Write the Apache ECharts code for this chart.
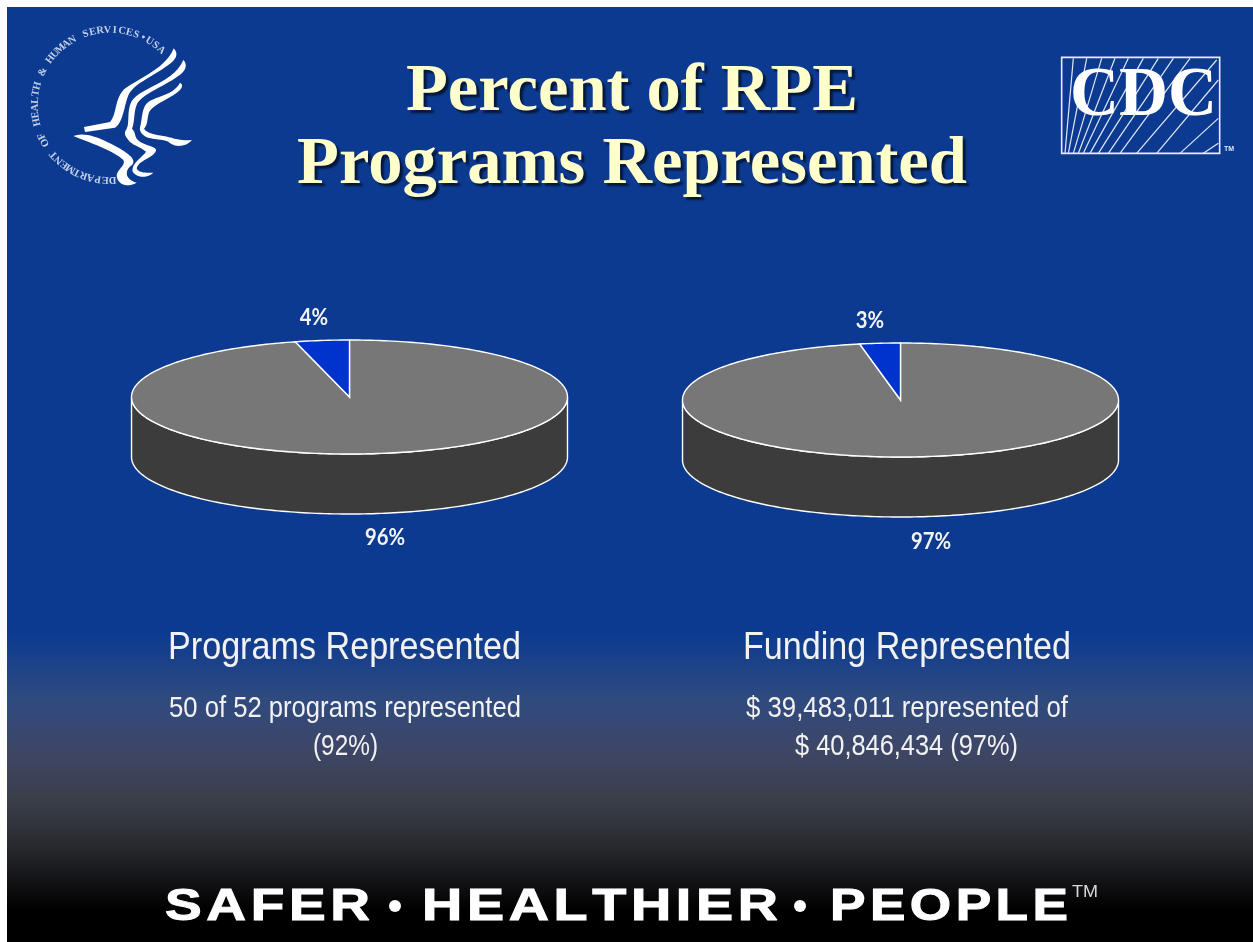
<!DOCTYPE html>
<html><head><meta charset="utf-8">
<style>html,body{margin:0;padding:0;background:#fff}#c{width:1253px;height:942px}</style>
<script src="https://cdn.jsdelivr.net/npm/echarts@6/dist/echarts.min.js"></script></head>
<body><div id="c"></div>
<script>
var sliceNames = ['Represented', 'Not represented'];
var programValues = [96, 4];
var fundingValues = [97, 3];
var sliceColors = ['#777777', '#0033cc'];
var sideColor = '#3c3c3c';
var titleLines = ['Percent of RPE', 'Programs Represented'];

var RX = 218, RY = 57, DEPTH = 60;
var pies = [
  {values: programValues, cx: 349.5, cy: 397, labels: [[385, 538], [314, 318]]},
  {values: fundingValues, cx: 900.5, cy: 400, labels: [[931, 542], [870, 321]]}
];

var measureCtx = document.createElement('canvas').getContext('2d');
function fitted(s, font, left, width, y, fill, z, heavy) {
  measureCtx.font = font;
  var w = measureCtx.measureText(s).width;
  var style = {text: s, font: font, fill: fill, textAlign: 'left', textVerticalAlign: 'middle'};
  if (heavy) { style.stroke = fill; style.lineWidth = heavy; }
  return {type: 'text', x: left, y: y, z: z || 10, scaleX: width / w, style: style};
}

function makeRender(values) {
  var total = values.reduce(function (a, b) { return a + b; }, 0);
  var drop = DEPTH / RY;
  return function (params, api) {
    var i = params.dataIndex, v = api.value(1), before = 0;
    for (var k = 0; k < i; k++) before += values[k];
    var a0 = before / total * 2 * Math.PI, a1 = (before + v) / total * 2 * Math.PI;
    var n = Math.max(8, Math.ceil((a1 - a0) / 0.02));
    var top = [api.coord([0, 0])], side = [], backEdge = [];
    for (var j = 0; j <= n; j++) {
      var a = a0 + (a1 - a0) * j / n, x = Math.sin(a), y = Math.cos(a);
      top.push(api.coord([x, y]));
      if (y <= 0) {
        side.push(api.coord([x, y]));
        backEdge.unshift(api.coord([x, y - drop]));
      }
    }
    var children = [];
    if (side.length) {
      children.push({type: 'polygon', shape: {points: side.concat(backEdge)},
        style: {fill: sideColor, stroke: '#ffffff', lineWidth: 1.4}});
    }
    children.push({type: 'polygon', shape: {points: top},
      style: {fill: sliceColors[i], stroke: '#ffffff', lineWidth: 1.4}});
    return {type: 'group', children: children};
  };
}

function pieLabels(p) {
  return p.values.map(function (v, i) {
    return {type: 'text', x: p.labels[i][0], y: p.labels[i][1], z: 10, scaleX: 0.88,
      style: {text: v + '%', font: 'bold 23px Lato', fill: '#f4f4f4', textAlign: 'center', textVerticalAlign: 'middle'}};
  });
}
var SANS = '"Liberation Sans"';

/* sample simple M/L/C path data to a polygon, in 3x crop units */
function pathToPoints(d) {
  var t = d.match(/[MLCZ]|-?[\d.]+/g), pts = [], i = 0, cur = [0, 0], cmd;
  while (i < t.length) {
    if (/[MLCZ]/.test(t[i])) { cmd = t[i++]; if (cmd === 'Z') continue; }
    if (cmd === 'C') {
      var b = t.slice(i, i + 6).map(Number); i += 6;
      for (var s = 1; s <= 14; s++) {
        var u = s / 14, m = 1 - u;
        pts.push([m*m*m*cur[0] + 3*m*m*u*b[0] + 3*m*u*u*b[2] + u*u*u*b[4],
                  m*m*m*cur[1] + 3*m*m*u*b[1] + 3*m*u*u*b[3] + u*u*u*b[5]]);
      }
      cur = [b[4], b[5]];
    } else {
      cur = [Number(t[i]), Number(t[i + 1])]; i += 2;
      pts.push(cur);
    }
  }
  return pts.map(function (p) { return [p[0] / 3, p[1] / 3]; });
}

/* HHS seal ---------------------------------------------------- */
var sealText = 'DEPARTMENT OF HEALTH & HUMAN SERVICES\u2022USA';
function seal() {
  var els = [], n = sealText.length, start = 178, end = 403;
  for (var i = 0; i < n; i++) {
    var d = start + (end - start) * i / (n - 1), r = d * Math.PI / 180;
    els.push({type: 'text', x: 110 + 75 * Math.sin(r), y: 105 - 75 * Math.cos(r), rotation: -r, z: 10,
      style: {text: sealText[i], font: 'bold 10.5px "Liberation Serif"', fill: '#c3d0e8', textAlign: 'center', textVerticalAlign: 'middle'}});
  }
  [
    'M252 381 L330 366 C352 340 342 300 372 268 C420 232 498 205 521 145 C536 160 530 178 505 195 C465 225 405 250 388 280 C372 310 372 365 345 383 L255 396 Z',
    'M376 393 C392 372 378 340 394 305 C420 262 520 250 550 180 C565 195 555 215 535 228 C495 258 430 280 412 310 C400 335 405 365 396 386 C410 400 400 412 420 425 C445 440 470 440 468 452 C460 475 415 480 410 505 C415 520 445 518 460 518 C445 535 410 535 398 515 C392 490 430 470 438 455 C420 440 395 435 385 420 C378 410 372 405 376 393 Z',
    'M420 382 C428 352 424 322 446 305 C480 285 520 285 540 248 C552 256 546 268 525 282 C495 302 460 315 448 335 C440 355 445 372 432 386 C440 400 470 405 490 408 C510 410 540 425 576 420 C560 440 525 445 505 425 C480 415 445 420 430 405 C422 398 418 390 420 382 Z',
    'M220 408 C260 395 300 415 340 435 C380 455 412 478 396 495 C372 510 375 540 410 548 C382 566 350 552 350 525 C355 505 378 495 370 480 C340 452 270 428 220 408 Z'
  ].forEach(function (d) {
    els.push({type: 'polygon', z: 10, shape: {points: pathToPoints(d)}, style: {fill: '#ffffff'}});
  });
  return els;
}

/* CDC logo ---------------------------------------------------- */
function cdcLogo() {
  var ox = 1040, oy = 40, f = 1 / 3;
  function px(x) { return ox + x * f; }
  function py(y) { return oy + y * f; }
  var rays = [[75,100,55],[85,140,55],[100,185,55],[115,225,55],[130,265,55],[150,310,55],[175,355,55],[205,400,55],[240,450,55],[290,530,60],[350,535,120],[420,535,235],[490,535,310]];
  var els = [{type: 'rect', z: 9, shape: {x: px(65), y: py(52), width: 158, height: 96},
    style: {fill: 'none', stroke: '#e8eef8', lineWidth: 1.6}}];
  rays.forEach(function (r) {
    els.push({type: 'line', z: 9, shape: {x1: px(r[0]), y1: py(340), x2: px(r[1]), y2: py(r[2])},
      style: {stroke: '#dfe8f6', lineWidth: 1.2}});
  });
  els.push(fitted('CDC', 'bold 70px "Liberation Serif"', 1070, 147, 97, '#ffffff', 10));
  els.push({type: 'text', x: 1229, y: 149, z: 10,
    style: {text: 'TM', font: 'bold 7px "Liberation Sans"', fill: '#dfe8f6', textAlign: 'center', textVerticalAlign: 'middle'}});
  return els;
}

/* slogan words with hair-space tracking */
function track(s) { return s.split('').join('\u200a'); }
var SLOGAN_FONT = 'bold 44px "Liberation Sans"';
var graphics = [
  {type: 'rect', z: -10, shape: {x: 7, y: 7, width: 1246, height: 935},
    style: {fill: new echarts.graphic.LinearGradient(0, 0, 0, 1, [
      {offset: 0, color: '#0b3a90'},
      {offset: 0.668, color: '#0b3a90'},
      {offset: 0.74, color: '#2f4a7f'},
      {offset: 0.795, color: '#3e4666'},
      {offset: 0.85, color: '#3a3e48'},
      {offset: 0.90, color: '#26282c'},
      {offset: 0.94, color: '#101012'},
      {offset: 0.965, color: '#000000'},
      {offset: 1, color: '#000000'}
    ])}},
  fitted('Programs Represented', '39px ' + SANS, 168, 353, 648, '#f2f2f2'),
  fitted('50 of 52 programs represented', '30px ' + SANS, 169, 352, 709, '#f2f2f2'),
  fitted('(92%)', '30px ' + SANS, 313, 65, 747, '#f2f2f2'),
  fitted('Funding Represented', '39px ' + SANS, 743, 328, 648, '#f2f2f2'),
  fitted('$ 39,483,011 represented of', '30px ' + SANS, 746, 322, 709, '#f2f2f2'),
  fitted('$ 40,846,434 (97%)', '30px ' + SANS, 795, 223, 747, '#f2f2f2'),
  fitted(track('SAFER'), SLOGAN_FONT, 165, 205, 908, '#ffffff', 10, 1),
  {type: 'circle', z: 10, shape: {cx: 395, cy: 906, r: 6}, style: {fill: '#ffffff'}},
  fitted(track('HEALTHIER'), SLOGAN_FONT, 422, 356, 908, '#ffffff', 10, 1),
  {type: 'circle', z: 10, shape: {cx: 800, cy: 906, r: 6}, style: {fill: '#ffffff'}},
  fitted(track('PEOPLE'), SLOGAN_FONT, 830, 238, 908, '#ffffff', 10, 1),
  fitted('TM', '17px ' + SANS, 1072, 26, 892, '#d8d8d8')
].concat(pieLabels(pies[0]), pieLabels(pies[1]), seal(), cdcLogo());

var chart = echarts.init(document.getElementById('c'), null, {renderer: 'canvas'});
chart.setOption({
  backgroundColor: '#ffffff',
  animation: false,
  title: {
    text: titleLines.join('\n'), left: 627, top: 51, textAlign: 'center',
    textStyle: {fontFamily: '"Liberation Serif"', fontWeight: 'bold', fontSize: 68.6, lineHeight: 73,
      color: '#ffffcc', textShadowColor: 'rgba(0,0,0,0.6)', textShadowBlur: 2, textShadowOffsetX: 3, textShadowOffsetY: 3}
  },
  grid: pies.map(function (p) {
    return {left: p.cx - RX, top: p.cy - RY, width: 2 * RX, height: 2 * RY};
  }),
  xAxis: pies.map(function (p, i) { return {type: 'value', gridIndex: i, min: -1, max: 1, show: false}; }),
  yAxis: pies.map(function (p, i) { return {type: 'value', gridIndex: i, min: -1, max: 1, show: false}; }),
  series: pies.map(function (p, i) {
    return {type: 'custom', xAxisIndex: i, yAxisIndex: i, silent: true,
      renderItem: makeRender(p.values), encode: {x: 0, y: 1},
      data: p.values.map(function (v, k) { return {name: sliceNames[k], value: [0, v]}; })};
  }),
  graphic: {elements: graphics}
});
</script></body></html>
